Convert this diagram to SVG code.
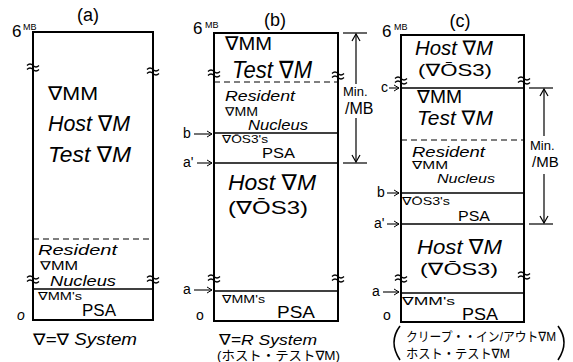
<svg xmlns="http://www.w3.org/2000/svg" width="573" height="362" viewBox="0 0 573 362">
<style>
text{font-family:"Liberation Sans","DejaVu Sans","Noto Sans CJK JP",sans-serif;fill:#000}
.box{fill:none;stroke:#000;stroke-width:2}
.sep{stroke:#000;stroke-width:1.5}
.dash{stroke:#000;stroke-width:1.2;stroke-dasharray:6 4}
.brk{fill:none;stroke:#000;stroke-width:1.3}
.dim{stroke:#000;stroke-width:1.2;fill:none}
.ptr{stroke:#000;stroke-width:1.1;fill:none}
.it{font-style:italic}
.lbl{font-size:14px}
.big{font-size:22px}
.mid{font-size:19px}
.sm{font-size:13px}
.cap{font-size:18px}
</style>
<defs>
<g id="brkmark"><path class="brk" d="M-6,-1.5 q3,-3 6,0 t6,0 M-6,2.5 q3,-3 6,0 t6,0"/></g>
<marker id="ah" markerWidth="10" markerHeight="10" refX="8" refY="5" orient="auto" markerUnits="userSpaceOnUse"><path d="M1,1 L8,5 L1,9" fill="none" stroke="#000" stroke-width="1.2"/></marker>
<marker id="sa" markerWidth="8" markerHeight="8" refX="6" refY="4" orient="auto" markerUnits="userSpaceOnUse"><path d="M1,1 L6,4 L1,7" fill="none" stroke="#000" stroke-width="1"/></marker>
</defs>
<rect width="573" height="362" fill="#fff"/>

<!-- Panel (a) -->
<g id="panel-a">
<text x="88" y="21" class="cap" text-anchor="middle">(a)</text>
<text x="12" y="37" font-size="17">6</text><text x="23" y="30" font-size="9">MB</text>
<rect class="box" x="33" y="32" width="120" height="288"/>
<line class="dash" x1="33" y1="239" x2="153" y2="239"/>
<line class="sep" x1="33" y1="289" x2="153" y2="289"/>
<use href="#brkmark" x="33" y="67"/><use href="#brkmark" x="153" y="71"/>
<use href="#brkmark" x="33" y="279"/><use href="#brkmark" x="153" y="279"/>
<text x="48" y="100" class="mid" textLength="50" lengthAdjust="spacingAndGlyphs">∇MM</text>
<text x="48" y="131" class="big it" textLength="82" lengthAdjust="spacingAndGlyphs">Host ∇M</text>
<text x="48" y="162" class="big it" textLength="83" lengthAdjust="spacingAndGlyphs">Test ∇M</text>
<text x="38" y="255" font-size="15" class="it" textLength="79" lengthAdjust="spacingAndGlyphs">Resident</text>
<text x="40" y="270" font-size="12" textLength="38" lengthAdjust="spacingAndGlyphs">∇MM</text>
<text x="50" y="286" font-size="15" class="it" textLength="66" lengthAdjust="spacingAndGlyphs">Nucleus</text>
<text x="38" y="300" font-size="11" textLength="44" lengthAdjust="spacingAndGlyphs">∇MM's</text>
<text x="82" y="316" font-size="16" textLength="34" lengthAdjust="spacingAndGlyphs">PSA</text>
<text x="17" y="320" class="lbl it">o</text>
<text x="33" y="345" font-size="16" class="it" textLength="104" lengthAdjust="spacingAndGlyphs">∇=∇ System</text>
</g>

<!-- Panel (b) -->
<g id="panel-b">
<text x="275" y="26" class="cap" text-anchor="middle">(b)</text>
<text x="193" y="34" font-size="17">6</text><text x="205" y="28" font-size="9">MB</text>
<rect class="box" x="214" y="33" width="124" height="288"/>
<line class="dash" x1="214" y1="82" x2="338" y2="82"/>
<line class="sep" x1="214" y1="133" x2="338" y2="133"/>
<line class="sep" x1="214" y1="163" x2="338" y2="163"/>
<line class="sep" x1="214" y1="291" x2="338" y2="291"/>
<use href="#brkmark" x="214" y="73"/><use href="#brkmark" x="338" y="75"/>
<use href="#brkmark" x="214" y="278"/><use href="#brkmark" x="338" y="278"/>
<text x="225" y="50" class="mid" textLength="47" lengthAdjust="spacingAndGlyphs">∇MM</text>
<text x="232" y="78" font-size="24" class="it" textLength="80" lengthAdjust="spacingAndGlyphs">Test ∇M</text>
<text x="225" y="101" font-size="15" class="it" textLength="70" lengthAdjust="spacingAndGlyphs">Resident</text>
<text x="225" y="116" font-size="12" textLength="33" lengthAdjust="spacingAndGlyphs">∇MM</text>
<text x="248" y="130" class="lbl it" textLength="60" lengthAdjust="spacingAndGlyphs">Nucleus</text>
<text x="222" y="143" font-size="11" textLength="46" lengthAdjust="spacingAndGlyphs">∇ŌS3's</text>
<text x="262" y="158" font-size="15" textLength="33" lengthAdjust="spacingAndGlyphs">PSA</text>
<text x="228" y="190" font-size="22" class="it" textLength="88" lengthAdjust="spacingAndGlyphs">Host ∇M</text>
<text x="228" y="214" font-size="18" textLength="80" lengthAdjust="spacingAndGlyphs">(∇ŌS3)</text>
<text x="222" y="303" font-size="11" textLength="43" lengthAdjust="spacingAndGlyphs">∇MM's</text>
<text x="277" y="318" font-size="16" textLength="38" lengthAdjust="spacingAndGlyphs">PSA</text>
<text x="196" y="320" class="lbl">o</text>
<text x="183" y="138" class="lbl">b</text>
<text x="183" y="167" class="lbl">a'</text>
<text x="183" y="294" class="lbl">a</text>
<text x="219" y="345" font-size="15" class="it" textLength="98" lengthAdjust="spacingAndGlyphs">∇=R System</text>
<text x="217" y="360" font-size="13" textLength="123" lengthAdjust="spacingAndGlyphs">(ホスト・テスト∇M)</text>
</g>

<!-- Panel (c) -->
<g id="panel-c">
<text x="460" y="27" class="cap" text-anchor="middle">(c)</text>
<text x="382" y="37" font-size="17">6</text><text x="394" y="30" font-size="9">MB</text>
<rect class="box" x="401" y="35" width="123" height="287"/>
<line class="sep" x1="401" y1="88" x2="524" y2="88"/>
<line class="dash" x1="401" y1="140" x2="524" y2="140"/>
<line class="sep" x1="401" y1="193" x2="524" y2="193"/>
<line class="sep" x1="401" y1="224" x2="524" y2="224"/>
<line class="sep" x1="401" y1="293" x2="524" y2="293"/>
<use href="#brkmark" x="401" y="80"/><use href="#brkmark" x="524" y="80"/>
<use href="#brkmark" x="401" y="278"/><use href="#brkmark" x="524" y="275"/>
<text x="415" y="55" font-size="20" class="it" textLength="78" lengthAdjust="spacingAndGlyphs">Host ∇M</text>
<text x="418" y="76" font-size="17" textLength="74" lengthAdjust="spacingAndGlyphs">(∇ŌS3)</text>
<text x="417" y="103" font-size="18" textLength="45" lengthAdjust="spacingAndGlyphs">∇MM</text>
<text x="417" y="125" font-size="20" class="it" textLength="76" lengthAdjust="spacingAndGlyphs">Test ∇M</text>
<text x="412" y="157" font-size="14" class="it" textLength="73" lengthAdjust="spacingAndGlyphs">Resident</text>
<text x="412" y="169" font-size="11" textLength="36" lengthAdjust="spacingAndGlyphs">∇MM</text>
<text x="437" y="183" font-size="13" class="it" textLength="58" lengthAdjust="spacingAndGlyphs">Nucleus</text>
<text x="402" y="205" font-size="11" textLength="48" lengthAdjust="spacingAndGlyphs">∇ŌS3's</text>
<text x="458" y="221" font-size="15" textLength="32" lengthAdjust="spacingAndGlyphs">PSA</text>
<text x="417" y="254" font-size="21" class="it" textLength="85" lengthAdjust="spacingAndGlyphs">Host ∇M</text>
<text x="420" y="275" font-size="17" textLength="78" lengthAdjust="spacingAndGlyphs">(∇ŌS3)</text>
<text x="402" y="305" font-size="11" textLength="53" lengthAdjust="spacingAndGlyphs">∇MM's</text>
<text x="462" y="320" font-size="16" textLength="36" lengthAdjust="spacingAndGlyphs">PSA</text>
<text x="383" y="320" class="lbl">o</text>
<text x="381" y="92" class="lbl">c</text>
<text x="377" y="197" class="lbl">b</text>
<text x="374" y="228" class="lbl">a'</text>
<text x="372" y="296" class="lbl">a</text>
<path d="M400,326 Q388,342 400,360" fill="none" stroke="#000" stroke-width="1.6"/>
<path d="M558,326 Q570,342 558,360" fill="none" stroke="#000" stroke-width="1.6"/>
<text x="406" y="341" font-size="13" textLength="150" lengthAdjust="spacingAndGlyphs">クリープ・・イン/アウト∇M</text>
<text x="406" y="358" font-size="13" textLength="104" lengthAdjust="spacingAndGlyphs">ホスト・テスト∇M</text>
</g>

<!-- Connectors: pointer arrows and dimension lines -->
<g id="connectors">
<line class="ptr" x1="194" y1="134" x2="212" y2="134" marker-end="url(#sa)"/>
<line class="ptr" x1="197" y1="163" x2="212" y2="163" marker-end="url(#sa)"/>
<line class="ptr" x1="194" y1="290" x2="212" y2="290" marker-end="url(#sa)"/>
<line class="ptr" x1="389" y1="88" x2="399" y2="88" marker-end="url(#sa)"/>
<line class="ptr" x1="387" y1="193" x2="399" y2="193" marker-end="url(#sa)"/>
<line class="ptr" x1="387" y1="224" x2="399" y2="224" marker-end="url(#sa)"/>
<line class="ptr" x1="383" y1="292" x2="399" y2="292" marker-end="url(#sa)"/>
<!-- dimension (b) -->
<line class="dim" x1="343" y1="33" x2="367" y2="33"/>
<line class="dim" x1="343" y1="163" x2="367" y2="163"/>
<line class="dim" x1="356" y1="84" x2="356" y2="34" marker-end="url(#ah)"/>
<line class="dim" x1="356" y1="118" x2="356" y2="162" marker-end="url(#ah)"/>
<text x="343" y="96" class="sm">Min.</text>
<text x="345" y="114" font-size="16">/MB</text>
<!-- dimension (c) -->
<line class="dim" x1="529" y1="88" x2="553" y2="88"/>
<line class="dim" x1="529" y1="224" x2="553" y2="224"/>
<line class="dim" x1="544" y1="136" x2="544" y2="89" marker-end="url(#ah)"/>
<line class="dim" x1="544" y1="174" x2="544" y2="223" marker-end="url(#ah)"/>
<text x="530" y="150" class="sm">Min.</text>
<text x="532" y="167" font-size="15">/MB</text>
</g>
</svg>
